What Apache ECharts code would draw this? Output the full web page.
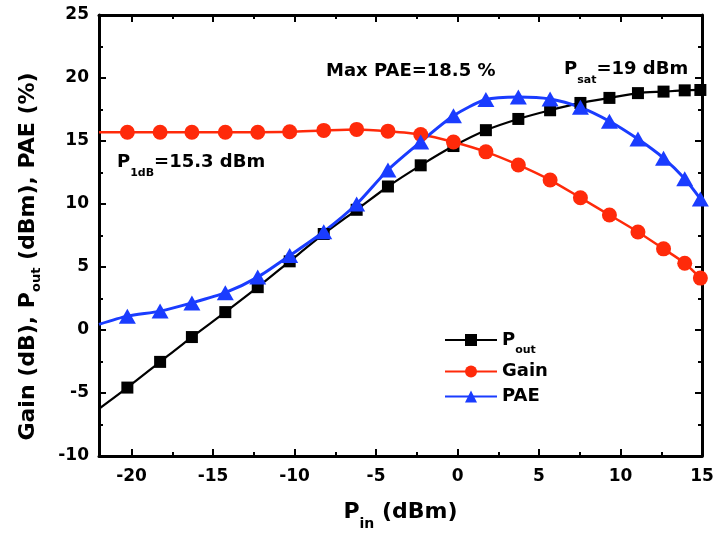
<!DOCTYPE html>
<html>
<head>
<meta charset="utf-8">
<script src="https://cdn.jsdelivr.net/npm/echarts@6/dist/echarts.min.js"></script>
<style>
  html, body { margin: 0; padding: 0; background: #fff; }
  #chart { width: 717px; height: 536px; }
</style>
</head>
<body>
<div id="chart"></div>
<script>
// Power sweep of the amplifier: input power (dBm) at each measured step
const pinDbm = [-20.26, -18.25, -16.3, -14.25, -12.26, -10.3, -8.21, -6.19, -4.27, -2.26,
                -0.25, 1.74, 3.73, 5.68, 7.54, 9.32, 11.07, 12.64, 13.94, 14.9];
// Output power (dBm)
const poutDbm = [-4.57, -2.53, -0.56, 1.42, 3.4, 5.45, 7.62, 9.54, 11.39, 13.07,
                 14.6, 15.86, 16.75, 17.44, 18.02, 18.42, 18.8, 18.92, 19.02, 19.05];
// Gain (dB)
const gainDb = [15.7, 15.7, 15.7, 15.7, 15.7, 15.73, 15.84, 15.92, 15.78, 15.52,
                14.92, 14.14, 13.1, 11.9, 10.5, 9.13, 7.78, 6.44, 5.3, 4.12];
// Power-added efficiency (%)
const paePct = [1.1, 1.5, 2.15, 2.96, 4.2, 5.91, 7.8, 10.0, 12.7, 14.93,
                17.0, 18.29, 18.5, 18.34, 17.67, 16.57, 15.15, 13.64, 12.0, 10.4];

// First sweep sample (drawn as line only, no marker)
const sweepStartPin = -22;
const sweepStartPout = -6.25;
const sweepStartGain = 15.7;
const sweepStartPae = 0.45;

// Axis ticks
const xMajorTicks = [-20, -15, -10, -5, 0, 5, 10, 15];
const xMinorTicks = [-17.5, -12.5, -7.5, -2.5, 2.5, 7.5, 12.5];

const FONT = '"DejaVu Sans", "Liberation Sans", sans-serif';
const RED = '#ff2a0a';
const BLUE = '#1a3cff';

function buildSeriesData(values, startValue) {
  const data = [{ value: [sweepStartPin, startValue], symbol: 'none' }];
  pinDbm.forEach((p, i) => data.push([p, values[i]]));
  return data;
}

const tickStyle = { color: '#000', width: 2 };

function xAxisBase(position, ticks, len, showLine, showLabels) {
  return {
    type: 'value', position, min: -22, max: 15,
    axisLine: { show: showLine, onZero: false, lineStyle: { color: '#000', width: 3 } },
    axisTick: { show: true, inside: true, length: len, customValues: ticks, lineStyle: tickStyle },
    axisLabel: showLabels ? {
      show: true, customValues: xMajorTicks, margin: 12,
      fontFamily: FONT, fontWeight: 'bold', fontSize: 17, color: '#000'
    } : { show: false },
    splitLine: { show: false }
  };
}

function yAxisBase(position, showLabels) {
  return {
    type: 'value', position, min: -10, max: 25, interval: 5,
    axisLine: { show: true, onZero: false, lineStyle: { color: '#000', width: 3 } },
    axisTick: { show: true, inside: true, length: 7, lineStyle: tickStyle },
    minorTick: { show: true, splitNumber: 2, length: 4, lineStyle: tickStyle },
    axisLabel: showLabels ? {
      show: true, margin: 10,
      fontFamily: FONT, fontWeight: 'bold', fontSize: 17, color: '#000'
    } : { show: false },
    splitLine: { show: false }
  };
}

const chart = echarts.init(document.getElementById('chart'), null, { renderer: 'canvas' });

const xBottom = xAxisBase('bottom', xMajorTicks, 7, true, true);
xBottom.name = '{m|P}{s|in}{m| (dBm)}';
xBottom.nameLocation = 'middle';
xBottom.nameGap = 37;
xBottom.nameTextStyle = {
  fontFamily: FONT, fontWeight: 'bold', fontSize: 22, color: '#000',
  rich: {
    m: { fontFamily: FONT, fontWeight: 'bold', fontSize: 22, color: '#000' },
    s: { fontFamily: FONT, fontWeight: 'bold', fontSize: 14, color: '#000', padding: [24, 0, 0, 0] }
  }
};

const yLeft = yAxisBase('left', true);
yLeft.name = '{m|Gain (dB), P}{s|out}{m| (dBm), PAE (%)}';
yLeft.nameLocation = 'middle';
yLeft.nameGap = 56;
yLeft.nameTextStyle = {
  fontFamily: FONT, fontWeight: 'bold', fontSize: 22, color: '#000',
  padding: [0, 42, 0, 0],
  rich: {
    m: { fontFamily: FONT, fontWeight: 'bold', fontSize: 22, color: '#000' },
    s: { fontFamily: FONT, fontWeight: 'bold', fontSize: 13, color: '#000', padding: [16, 0, 0, 0] }
  }
};

const option = {
  backgroundColor: '#fff',
  animation: false,
  grid: { left: 99, right: 15, top: 15, bottom: 78, containLabel: false },
  xAxis: [
    xBottom,
    xAxisBase('bottom', xMinorTicks, 4, false, false),
    xAxisBase('top', xMajorTicks, 7, true, false),
    xAxisBase('top', xMinorTicks, 4, false, false)
  ],
  yAxis: [
    yLeft,
    yAxisBase('right', false)
  ],
  legend: {
    orient: 'vertical',
    left: 439, top: 326,
    itemWidth: 52, itemHeight: 15, itemGap: 7,
    data: ['Pout', 'Gain', 'PAE'],
    formatter: name => name === 'Pout' ? '{m|P}{s|out}' : '{m|' + name + '}',
    textStyle: {
      fontFamily: FONT, fontWeight: 'bold', fontSize: 18, color: '#000',
      rich: {
        m: { fontFamily: FONT, fontWeight: 'bold', fontSize: 18, color: '#000' },
        s: { fontFamily: FONT, fontWeight: 'bold', fontSize: 11, color: '#000', padding: [20, 0, 0, 0] }
      }
    }
  },
  series: [
    {
      name: 'Pout', type: 'line', xAxisIndex: 0, yAxisIndex: 0,
      data: buildSeriesData(poutDbm, sweepStartPout),
      smooth: 0.25, symbol: 'rect', symbolSize: 12,
      lineStyle: { color: '#000', width: 2.2 },
      itemStyle: { color: '#000' }
    },
    {
      name: 'Gain', type: 'line', xAxisIndex: 0, yAxisIndex: 0,
      data: buildSeriesData(gainDb, sweepStartGain),
      smooth: 0.25, symbol: 'circle', symbolSize: 15,
      lineStyle: { color: RED, width: 2.5 },
      itemStyle: { color: RED }
    },
    {
      name: 'PAE', type: 'line', xAxisIndex: 0, yAxisIndex: 0,
      data: buildSeriesData(paePct, sweepStartPae),
      smooth: 0.25, symbol: 'triangle', symbolSize: [17, 15],
      lineStyle: { color: BLUE, width: 3 },
      itemStyle: { color: BLUE }
    }
  ],
  graphic: [
    {
      type: 'text', left: 326, top: 62,
      style: { text: 'Max PAE=18.5 %', font: 'bold 18px ' + FONT, fill: '#000' }
    },
    {
      type: 'text', left: 564, top: 60,
      style: {
        text: '{m|P}{s|sat}{m|=19 dBm}',
        rich: {
          m: { fontFamily: FONT, fontWeight: 'bold', fontSize: 18, fill: '#000' },
          s: { fontFamily: FONT, fontWeight: 'bold', fontSize: 11, fill: '#000', padding: [22, 0, 0, 0] }
        }
      }
    },
    {
      type: 'text', left: 117, top: 153,
      style: {
        text: '{m|P}{s|1dB}{m|=15.3 dBm}',
        rich: {
          m: { fontFamily: FONT, fontWeight: 'bold', fontSize: 18, fill: '#000' },
          s: { fontFamily: FONT, fontWeight: 'bold', fontSize: 11, fill: '#000', padding: [22, 0, 0, 0] }
        }
      }
    }
  ]
};

chart.setOption(option);
</script>
</body>
</html>
